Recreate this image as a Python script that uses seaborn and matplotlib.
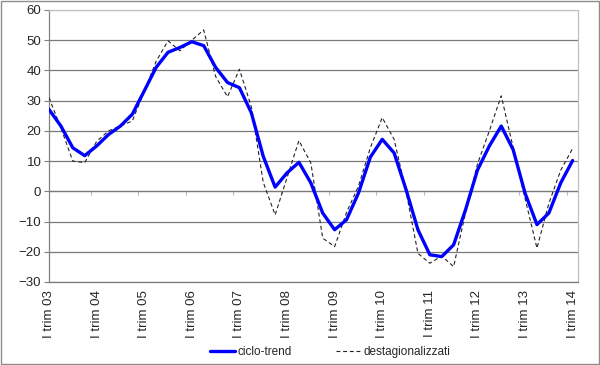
import numpy as np
import pandas as pd
import matplotlib
matplotlib.use("Agg")
import matplotlib.pyplot as plt
import seaborn as sns
from matplotlib.patches import Rectangle

# Trimestri dal I trim 03 al I trim 14
trimestri = list(range(45))
etichette_pos = list(range(0, 45, 4))
etichette = [f"I trim {a:02d}" for a in range(3, 15)]

ciclo_trend = [27.1, 21.6, 14.4, 11.8, 15.0, 18.8, 21.6, 25.5, 33.2, 41.0,
               46.0, 47.6, 49.5, 48.2, 41.0, 36.0, 34.3, 26.0, 11.6, 1.4,
               6.1, 9.6, 2.8, -7.2, -12.7, -9.4, -0.6, 11.3, 17.2, 12.7,
               0.6, -12.7, -21.0, -21.6, -17.7, -6.1, 7.0, 15.0, 21.6, 13.8,
               -0.6, -11.0, -7.2, 2.8, 10.2]

destagionalizzati = [31.0, 21.0, 10.0, 9.5, 16.5, 20.0, 21.6, 23.3, 33.0, 43.0,
                     49.8, 46.5, 50.0, 53.4, 38.0, 31.3, 40.4, 28.0, 3.0, -7.8,
                     4.5, 16.8, 9.4, -15.5, -18.3, -7.0, 1.7, 14.4, 24.4, 17.2,
                     0.0, -20.5, -23.8, -21.4, -24.9, -7.0, 9.0, 20.0, 31.6, 14.5,
                     -2.3, -18.8, -4.0, 7.0, 14.2]

df = pd.DataFrame({"t": trimestri, "ciclo": ciclo_trend, "dest": destagionalizzati})

sns.set_theme(style="white")
plt.rcParams["font.family"] = ["Liberation Sans", "DejaVu Sans"]

fig = plt.figure(figsize=(6, 3.65), dpi=100)
ax = fig.add_axes([49 / 600, 1 - 282 / 365, (578 - 49) / 600, (282 - 10) / 365])

sns.lineplot(data=df, x="t", y="ciclo", color="#0000ff", linewidth=2.4,
             label="ciclo-trend", ax=ax, zorder=4,
             solid_joinstyle="round", solid_capstyle="round")
sns.lineplot(data=df, x="t", y="dest", color="#222222", linewidth=0.8,
             dashes=False, label="destagionalizzati", ax=ax, zorder=3)
ax.lines[1].set_dashes((3.5, 2.5))

ax.set_xlim(0, 44.45)
ax.set_ylim(-30, 60)
ax.set_yticks(range(-30, 61, 10))
ax.set_xticks(etichette_pos)
ax.set_xticklabels(etichette, rotation=90, fontsize=9.5, va="top", ha="center")
ax.tick_params(axis="x", length=0, pad=6)
ax.tick_params(axis="y", direction="out", length=3.5, width=0.8, color="#808080",
               labelsize=9.5, pad=2, left=True)
ax.set_xlabel("")
ax.set_ylabel("")

ax.yaxis.grid(True, color="#7a7a7a", linewidth=0.9)
ax.set_axisbelow(True)
for val, gl in zip(range(-30, 61, 10), ax.get_ygridlines()):
    if val == 60:
        gl.set_color("#c0c0c0")

for side in ["top", "right"]:
    ax.spines[side].set_color("#c0c0c0")
    ax.spines[side].set_linewidth(0.9)
ax.spines["left"].set_color("#808080")
ax.spines["bottom"].set_color("#7a7a7a")
ax.spines["left"].set_linewidth(0.9)
ax.spines["bottom"].set_linewidth(0.9)

# asse delle categorie sullo zero
sec = ax.secondary_xaxis(30 / 90)
sec.set_xticks([3.5 + 4 * k for k in range(11)])
sec.tick_params(axis="x", direction="out", length=3, width=0.8, color="#b8b8b8",
                labelbottom=False, labeltop=False)
for side in ["top", "bottom"]:
    sec.spines[side].set_color("#bdbdbd")
    sec.spines[side].set_linewidth(1.0)

ax.get_legend().remove()
handles, labels = ax.get_legend_handles_labels()
fig.legend(handles, labels, loc="center", bbox_to_anchor=(330 / 600, 1 - 352 / 365),
           ncol=2, frameon=False, fontsize=8.5, handlelength=2.1,
           handletextpad=0.2, columnspacing=3.8)

fig.patches.append(Rectangle((0.001, 0.002), 0.997, 0.995, transform=fig.transFigure,
                             fill=False, edgecolor="#8c8c8c", linewidth=1.0))

fig.savefig("out.png", dpi=100)
plt.close(fig)
